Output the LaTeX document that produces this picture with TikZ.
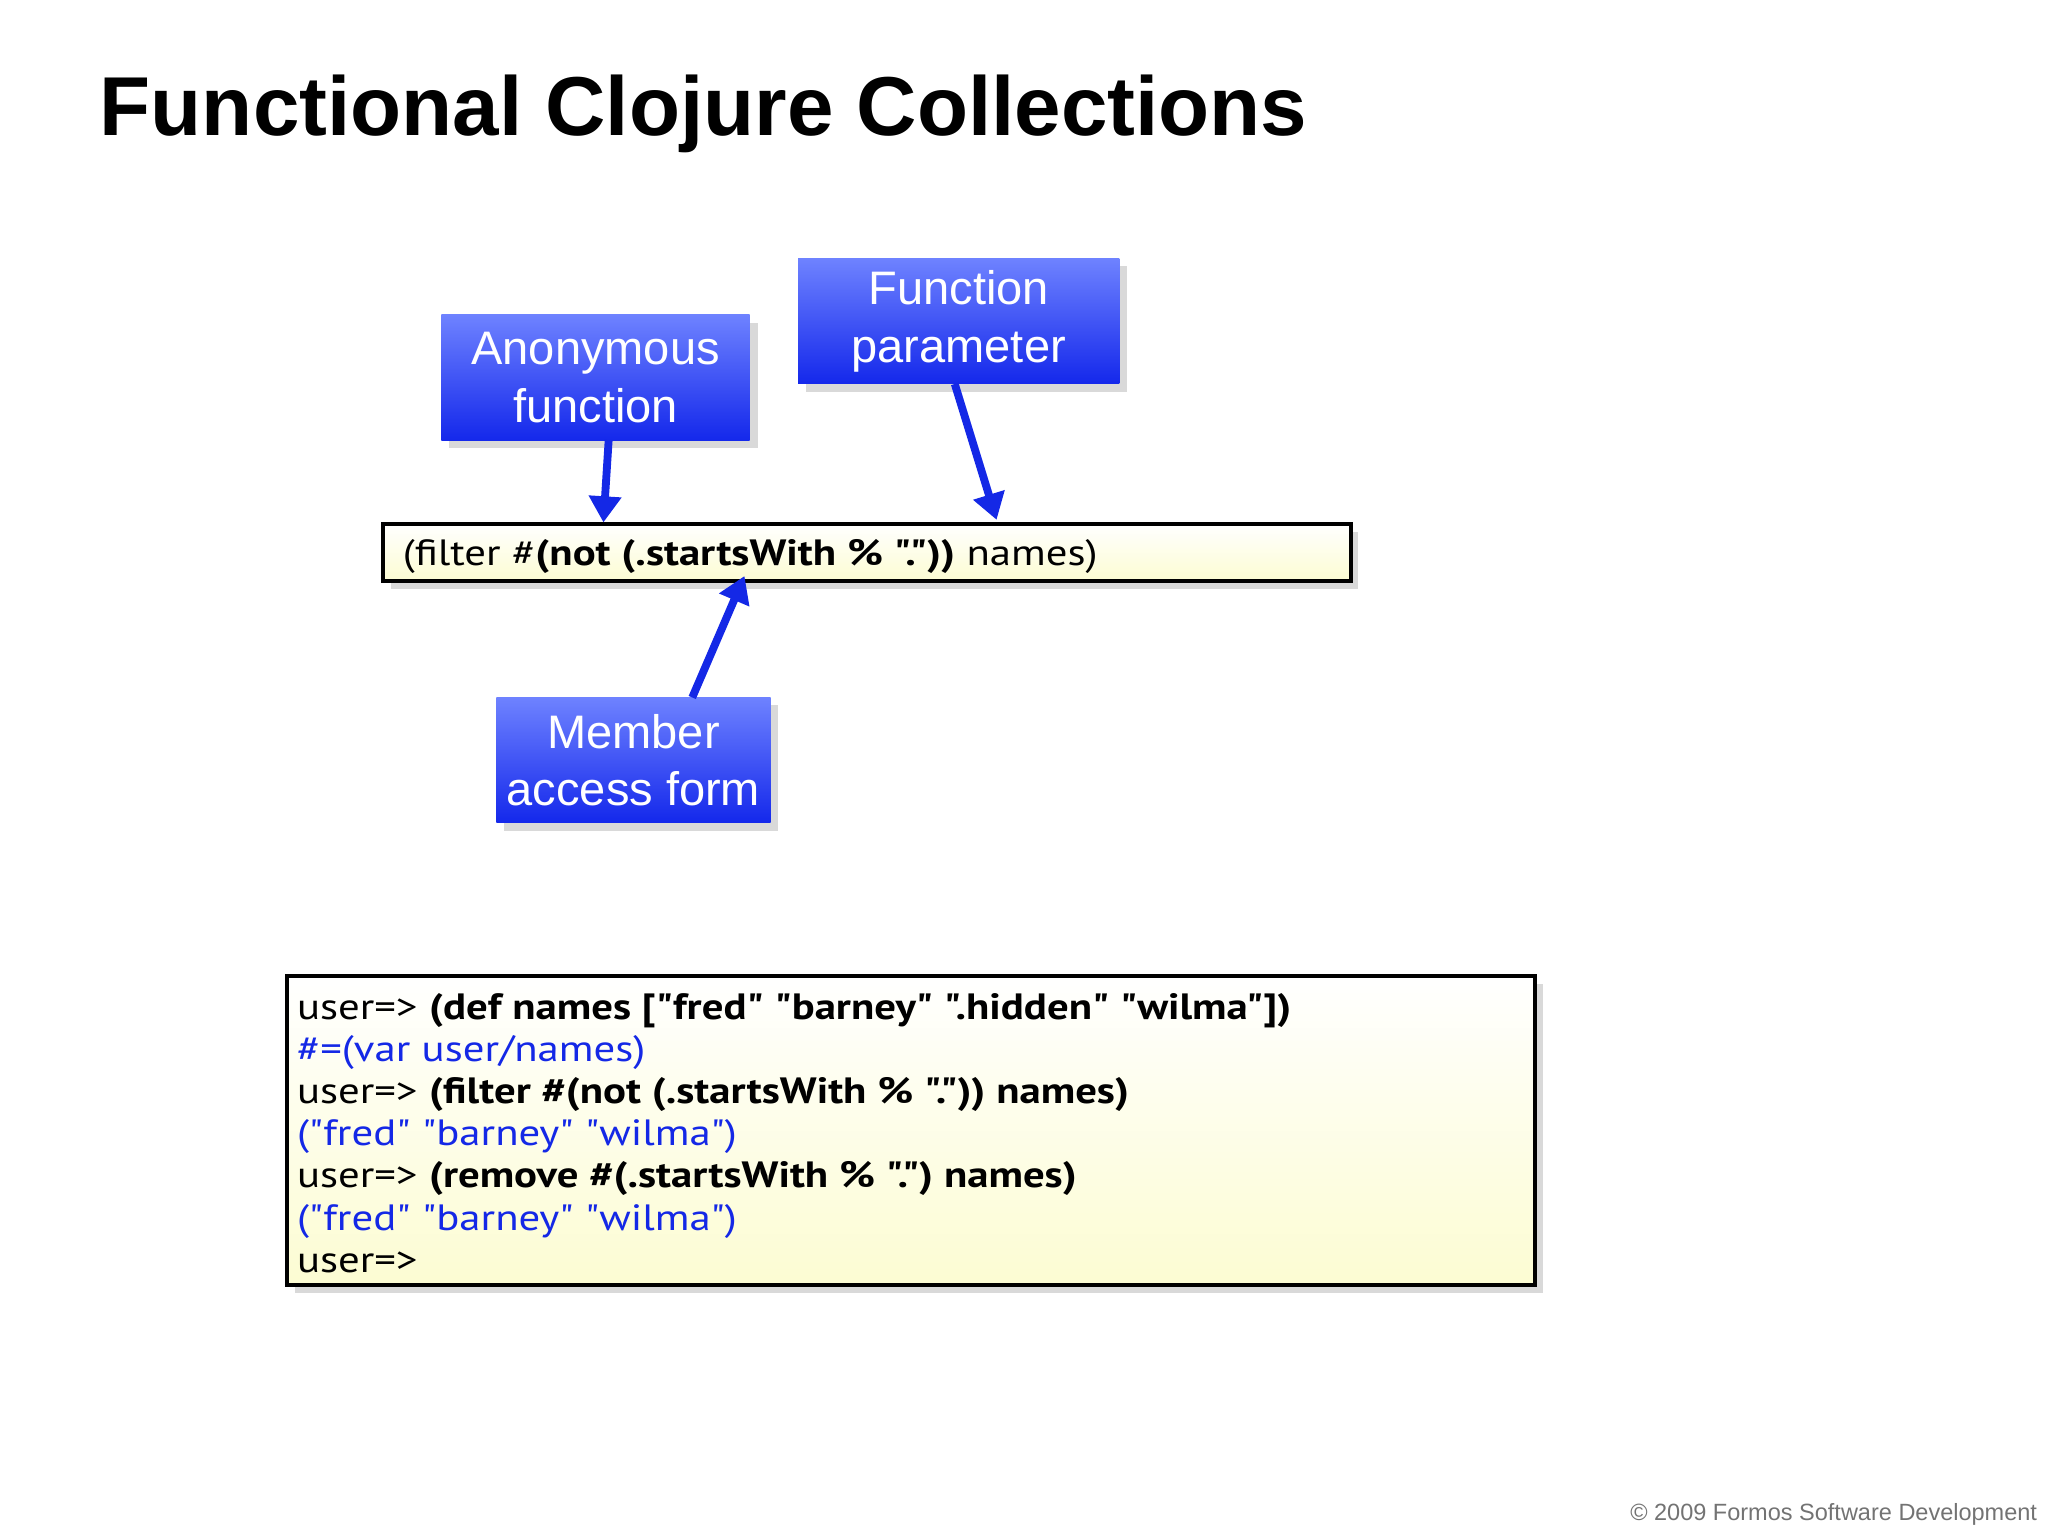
\documentclass[tikz,border=0pt]{standalone}
\usepackage{fontspec}
\setmainfont{Liberation Sans}
\newfontfamily\codefont[FakeStretch=1.17]{PT Sans}
\usetikzlibrary{shadows,arrows.meta}
\definecolor{bluetop}{RGB}{110,130,255}
\definecolor{bluebot}{RGB}{20,40,235}
\definecolor{codeblue}{RGB}{20,40,230}
\definecolor{yel}{RGB}{252,252,210}
\tikzset{
  px/.style={x=0.5pt,y=-0.5pt},
  callout/.style={draw=none,top color=bluetop,bottom color=bluebot,text=white,
    font=\fontsize{18}{22}\selectfont,align=center,inner sep=0pt,
    drop shadow={shadow xshift=3pt,shadow yshift=-3pt,opacity=0.3}},
  codebox/.style={draw=black,line width=1.5pt,top color=white,bottom color=yel,
    drop shadow={shadow xshift=3pt,shadow yshift=-3pt,opacity=0.3}},
  pointer/.style={draw=codeblue,line width=3pt,-{Triangle[length=10pt,width=12pt]}},
}
\begin{document}
\begin{tikzpicture}[px]
\useasboundingbox (0,0) rectangle (1568,1176);
\node[anchor=base west,inner sep=0pt,font=\fontsize{32}{38}\selectfont\bfseries] (title) at (76,104) {Functional Clojure Collections};
% code box 1
\path[codebox] (293,401) rectangle (1034,445);
\node[anchor=base west,inner sep=0pt,font=\codefont\fontsize{14}{16}\selectfont] (code1) at (308,433) {(filter \#\textbf{(not (.startsWith \% "."))} names)};
\coordinate (t1) at (462,400);
\coordinate (t2) at (763,398);
\coordinate (t3) at (570,441);
% callouts
\node[callout,minimum width=118pt,minimum height=48pt] (anon) at (456,289) {Anonymous\\function};
\node[callout,minimum width=123pt,minimum height=48pt] (fparam) at (734,246) {Function\\parameter};
\node[callout,minimum width=105pt,minimum height=48pt] (member) at (485,582) {Member\\access form};
\coordinate (s1) at (466,337);
\coordinate (s2) at (731,294);
\coordinate (s3) at (530,534);
\draw[pointer] (s1) -- (t1);
\draw[pointer] (s2) -- (t2);
\draw[pointer] (s3) -- (t3);
% code box 2
\path[codebox] (220,747) rectangle (1175,984);
\node[anchor=north west,align=left,inner sep=0pt,font=\codefont\fontsize{14}{16.15}\selectfont] (code2) at (227,760) {%
user=> \textbf{(def names ["fred" "barney" ".hidden" "wilma"])}\\
\textcolor{codeblue}{\#=(var user/names)}\\
user=> \textbf{(filter \#(not (.startsWith \% ".")) names)}\\
\textcolor{codeblue}{("fred" "barney" "wilma")}\\
user=> \textbf{(remove \#(.startsWith \% ".") names)}\\
\textcolor{codeblue}{("fred" "barney" "wilma")}\\
user=>};
\node[anchor=base east,inner sep=0pt,text=black!55,font=\fontsize{9}{11}\selectfont] (foot) at (1560,1164) {© 2009 Formos Software Development};
\end{tikzpicture}
\end{document}
